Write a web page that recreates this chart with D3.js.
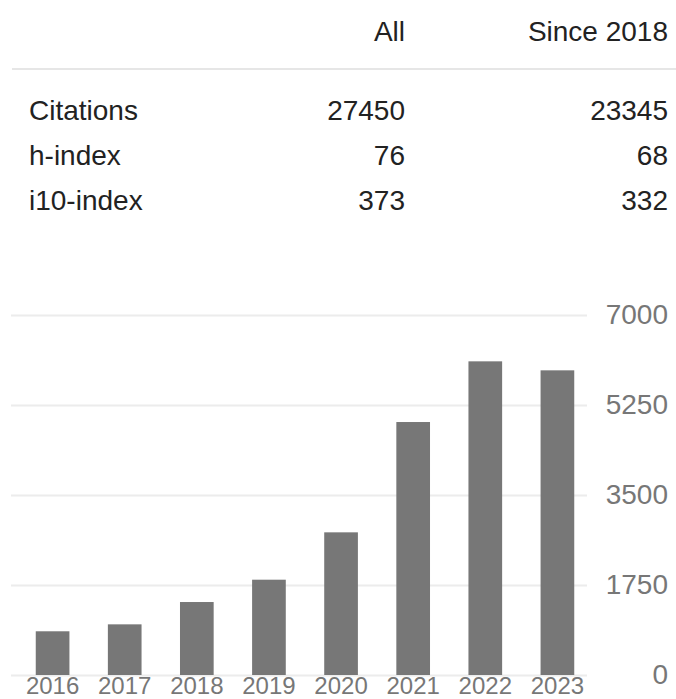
<!DOCTYPE html>
<html>
<head>
<meta charset="utf-8">
<script src="https://cdn.jsdelivr.net/npm/d3@7"></script>
<style>
  html, body { margin: 0; padding: 0; background: #fff; }
  svg { display: block; font-family: "Liberation Sans", Arial, Helvetica, sans-serif; }
</style>
</head>
<body>
<svg id="chart" width="676" height="699"></svg>
<script>
// ---- data ----
const columns = ["All", "Since 2018"];
const metrics = ["Citations", "h-index", "i10-index"];
const allValues = [27450, 76, 373];
const sinceValues = [23345, 68, 332];

const years = ["2016", "2017", "2018", "2019", "2020", "2021", "2022", "2023"];
const citations = [850, 985, 1419, 1853, 2774, 4919, 6099, 5924];
const yTicks = [0, 1750, 3500, 5250, 7000];

// ---- drawing ----
const svg = d3.select("#chart");

// table
const colX = [405, 668];
const tbl = svg.append("g");
tbl.selectAll("text.head").data(columns).join("text")
  .attr("class", "head")
  .attr("x", (d, i) => colX[i]).attr("y", 41)
  .attr("text-anchor", "end")
  .attr("font-size", 28).attr("fill", "#222")
  .text(d => d);

tbl.append("line")
  .attr("x1", 12).attr("x2", 676).attr("y1", 69).attr("y2", 69)
  .attr("stroke", "#e6e6e6").attr("stroke-width", 2);

const rowY = d3.scalePoint().domain(metrics).range([120, 210]);
const rows = tbl.selectAll("g.row").data(metrics).join("g").attr("class", "row")
  .attr("transform", d => `translate(0,${rowY(d)})`);
rows.append("text").attr("x", 29).attr("font-size", 28).attr("fill", "#222").text(d => d);
rows.append("text").attr("x", colX[0]).attr("text-anchor", "end").attr("font-size", 28).attr("fill", "#222")
  .text((d, i) => allValues[i]);
rows.append("text").attr("x", colX[1]).attr("text-anchor", "end").attr("font-size", 28).attr("fill", "#222")
  .text((d, i) => sinceValues[i]);

// bar chart
const x = d3.scaleBand().domain(years).range([17, 593]).paddingInner(0.533).paddingOuter(0.26);
const y = d3.scaleLinear().domain([0, 7000]).range([675, 315]);

const gy = svg.append("g").attr("transform", "translate(11,0)")
  .call(d3.axisRight(y).tickValues(yTicks).tickFormat(d3.format("d")).tickSize(576).tickPadding(0));
gy.select(".domain").remove();
gy.selectAll(".tick line").attr("stroke", "#ececec").attr("stroke-width", 2);
gy.selectAll(".tick text")
  .attr("x", 657).attr("text-anchor", "end")
  .attr("font-size", 28).attr("fill", "#777")
  .attr("font-family", "Liberation Sans, Arial, sans-serif");

svg.append("g").selectAll("rect").data(years).join("rect")
  .attr("x", d => x(d))
  .attr("width", x.bandwidth())
  .attr("y", (d, i) => y(citations[i]))
  .attr("height", (d, i) => y(0) - y(citations[i]))
  .attr("fill", "#777");

const gx = svg.append("g").attr("transform", "translate(0,675)")
  .call(d3.axisBottom(x).tickSize(0).tickPadding(2));
gx.select(".domain").remove();
gx.selectAll(".tick text")
  .attr("font-size", 24).attr("fill", "#777")
  .attr("font-family", "Liberation Sans, Arial, sans-serif");
</script>
</body>
</html>
